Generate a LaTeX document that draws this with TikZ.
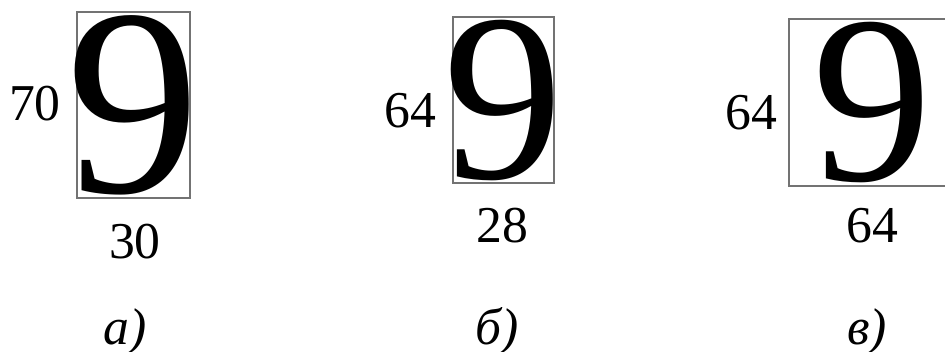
\documentclass[tikz,border=0pt]{standalone}
\usepackage{fontspec}
\setmainfont{Liberation Serif}
\usetikzlibrary{positioning}

\begin{document}
\begin{tikzpicture}[x=0.01cm,y=-0.01cm,
  glyphbox/.style={draw=black!55, line width=0.6pt, inner sep=0pt},
  bignine/.style={inner sep=0pt},
  sizelabel/.style={anchor=base, inner sep=0pt, font=\fontsize{14.7}{17}\selectfont},
  caption/.style={sizelabel, font=\fontsize{14.7}{17}\selectfont\itshape}]
\useasboundingbox (0,0) rectangle (945,351);
\node[glyphbox, minimum width=1.13cm, minimum height=1.86cm] (boxA) at (133.5,105) {};
\node[bignine, font=\fontsize{76}{76}\selectfont] (nineA) at (boxA.center) {9};
\node[sizelabel] (hA) at (35,120) {70};
\node[sizelabel] (wA) at (135,258) {30};
\node[caption] (capA) at (125,344) {а)};
\node[glyphbox, minimum width=1.01cm, minimum height=1.66cm] (boxB) at (503.5,100) {};
\node[bignine, font=\fontsize{68}{68}\selectfont] (nineB) at (boxB.center) {9};
\node[sizelabel] (hB) at (410,127) {64};
\node[sizelabel] (wB) at (502,242) {28};
\node[caption] (capB) at (497.5,344) {б)};
\node[glyphbox, minimum width=1.67cm, minimum height=1.67cm] (boxC) at (872.5,102.5) {};
\node[bignine, font=\fontsize{68}{68}\selectfont] (nineC) at (boxC.center) {9};
\node[sizelabel] (hC) at (751,129) {64};
\node[sizelabel] (wC) at (872,242) {64};
\node[caption] (capC) at (867,344) {в)};
\end{tikzpicture}
\end{document}
